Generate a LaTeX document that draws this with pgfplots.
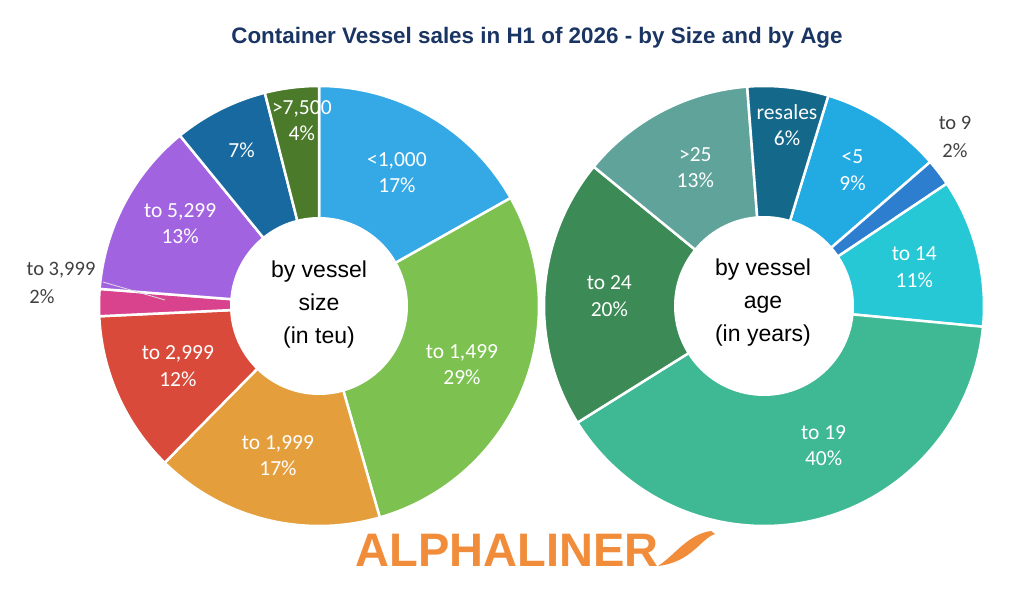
\documentclass[border=0pt]{standalone}
\usepackage{pgfplots}
\pgfplotsset{compat=1.18}
\usepackage{pgfplotstable}
\usepackage{fontspec}
\setmainfont{Carlito}
\newfontfamily\arial{Liberation Sans}

\definecolor{titleblue}{HTML}{1A3563}
\definecolor{logo}{HTML}{F08C3A}
\definecolor{lbl}{HTML}{404040}
% size classes
\definecolor{sA}{HTML}{35A8E6}
\definecolor{sB}{HTML}{7DC250}
\definecolor{sC}{HTML}{E49E3C}
\definecolor{sD}{HTML}{D94A3B}
\definecolor{sE}{HTML}{D9428C}
\definecolor{sF}{HTML}{A263E0}
\definecolor{sG}{HTML}{1769A0}
\definecolor{sH}{HTML}{4B7B2A}
% age classes
\definecolor{aA}{HTML}{22AAE2}
\definecolor{aB}{HTML}{2E7ECF}
\definecolor{aC}{HTML}{26C8D6}
\definecolor{aD}{HTML}{3FB994}
\definecolor{aE}{HTML}{3C8A55}
\definecolor{aF}{HTML}{5FA39B}
\definecolor{aG}{HTML}{14688A}

% inside: 1 = name and share in the ring, 2 = share only, 0 = labelled outside
% nx, ny: label nudge (pt) away from the middle of the ring
\pgfplotstableread[col sep=semicolon]{
name;share;colour;inside;nx;ny
<1,000;17;sA;1;0;0
to 1,499;29;sB;1;0;0
to 1,999;17;sC;1;-3;0
to 2,999;12;sD;1;0;3
to 3,999;2;sE;0;0;0
to 5,299;13;sF;1;-2;11
to 7,499;7;sG;2;-8;18
>7,500;4;sH;1;2;32
}\sizetable

\pgfplotstableread[col sep=semicolon]{
name;share;colour;inside;nx;ny
<5;9;aA;1;4;6
to 9;2;aB;0;0;0
to 14;11;aC;1;0;1
to 19;40;aD;1;24;11
to 24;20;aE;1;0;0
>25;13;aF;1;3;1
resales;6;aG;1;6;27
}\agetable

\tikzset{slicelabel/.style={text=white,align=center,
  font=\fontsize{21.5}{26.5}\selectfont}}

% #1 table, #2 cx, #3 cy, #4 outer radius, #5 inner radius,
% #6 first slice angle (degrees clockwise from 12 o'clock)
\newcommand\donut[6]{%
  \pgfplotstablegetrowsof{#1}%
  \pgfmathtruncatemacro\lastrow{\pgfplotsretval-1}%
  \def\total{0}%
  \pgfplotsforeachungrouped \i in {0,...,\lastrow}{%
    \pgfplotstablegetelem{\i}{share}\of#1%
    \pgfmathsetmacro\total{\total+\pgfplotsretval}}%
  \pgfmathsetmacro\degper{360/\total}%
  \def\cum{0}%
  \pgfplotsforeachungrouped \i in {0,...,\lastrow}{%
    \pgfplotstablegetelem{\i}{share}\of#1\let\sliceval\pgfplotsretval
    \pgfplotstablegetelem{\i}{colour}\of#1\let\slicecol\pgfplotsretval
    \pgfplotstablegetelem{\i}{name}\of#1\let\slicename\pgfplotsretval
    \pgfplotstablegetelem{\i}{inside}\of#1\let\sliceinside\pgfplotsretval
    \pgfplotstablegetelem{\i}{nx}\of#1\let\nudgex\pgfplotsretval
    \pgfplotstablegetelem{\i}{ny}\of#1\let\nudgey\pgfplotsretval
    \pgfmathsetmacro\sa{90-#6-\degper*\cum}%
    \pgfmathsetmacro\sb{\sa-\degper*\sliceval}%
    \pgfmathsetmacro\sm{(\sa+\sb)/2}%
    \edef\slice{\noexpand\fill[\slicecol,draw=white,line width=2.5pt,line join=bevel]
      (axis cs:#2,#3) -- ++(\sa:#4pt) arc[start angle=\sa,end angle=\sb,radius=#4pt] -- cycle;}%
    \slice
    \pgfmathsetmacro\lx{#2+(#4+#5)/2*cos(\sm)+\nudgex}%
    \pgfmathsetmacro\ly{#3+(#4+#5)/2*sin(\sm)+\nudgey}%
    \ifnum\sliceinside=1\relax
      \edef\slicelabel{\noexpand\node[slicelabel] at (axis cs:\lx,\ly)
        {\slicename\noexpand\\\sliceval\noexpand\%};}%
      \slicelabel
    \fi
    \ifnum\sliceinside=2\relax
      \edef\slicelabel{\noexpand\node[slicelabel] at (axis cs:\lx,\ly)
        {\sliceval\noexpand\%};}%
      \slicelabel
    \fi
    \pgfmathsetmacro\cum{\cum+\sliceval}}%
  \fill[white] (axis cs:#2,#3) circle[radius=#5pt];
}

\begin{document}
\begin{tikzpicture}
\begin{axis}[
  x=1pt, y=1pt,
  xmin=0, xmax=1024, ymin=0, ymax=589,
  scale only axis, hide axis, clip=false]
  \path (axis cs:0,0) rectangle (axis cs:1024,589);

  \node[font=\arial\bfseries\fontsize{22.4}{26}\selectfont,text=titleblue]
    at (axis cs:537,551) {Container Vessel sales in H1 of 2026 - by Size and by Age};

  % by vessel size
  \donut{\sizetable}{319}{283}{220}{89}{0}
  \draw[white!75!gray,line width=0.8pt] (axis cs:103,307) -- (axis cs:165,289);
  \node[text=lbl,font=\fontsize{20.5}{24}\selectfont] at (axis cs:61,319) {to 3,999};
  \node[text=lbl,font=\fontsize{20.5}{24}\selectfont] at (axis cs:42,292) {2\%};
  \node[align=center,font=\arial\fontsize{23}{33}\selectfont] at (axis cs:319,284)
    {by vessel\\size\\(in teu)};

  % by vessel age
  \donut{\agetable}{764}{283}{220}{90}{17}
  \node[text=lbl,font=\fontsize{20.5}{24}\selectfont] at (axis cs:955,466) {to 9};
  \node[text=lbl,font=\fontsize{20.5}{24}\selectfont] at (axis cs:955,438) {2\%};
  \node[align=center,font=\arial\fontsize{23}{33}\selectfont] at (axis cs:763,286)
    {by vessel\\age\\(in years)};

  % logo
  \node[font=\arial\bfseries\fontsize{47}{50}\selectfont,text=logo,anchor=east]
    at (axis cs:662,39) {ALPHALINER};
  \fill[logo] (axis cs:658,23) .. controls (axis cs:674,33) and (axis cs:688,55)
    .. (axis cs:711,58) -- (axis cs:715,55) .. controls (axis cs:700,50) and (axis cs:692,27)
    .. cycle;
\end{axis}
\end{tikzpicture}
\end{document}
